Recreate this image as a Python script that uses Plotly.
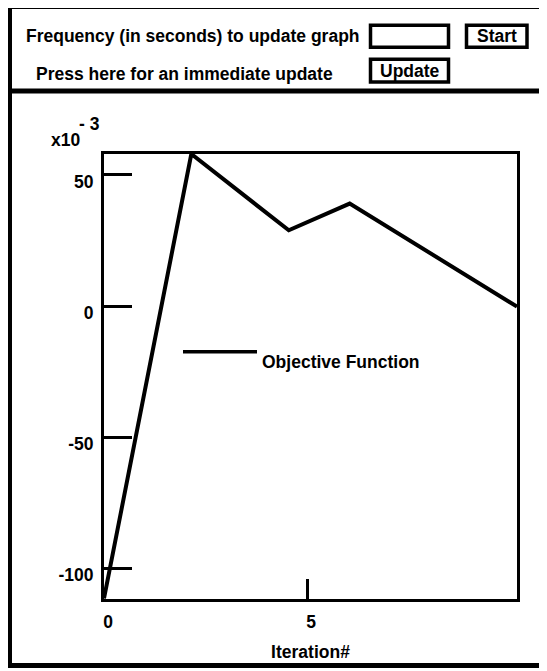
import plotly.graph_objects as go

# ---- data (y in units of 1e-3) ----
iterations = [0, 2.15, 4.55, 6.05, 10.17]
objective = [-111.5, 58.0, 28.9, 39.1, -0.2]
y_tick_vals = [-100, -50, 0, 50]
y_tick_text = ["-100", "-50", "0", "50"]
x_tick_vals = [0, 5]
x_tick_text = ["0", "5"]
series_name = "Objective Function"

# the page body adds an 8px margin; lay out in window pixels and shift by it
OFF = 8
W, H = 547 - OFF, 671 - OFF
L, T = 104 - OFF, 154 - OFF
PW, PH = 413, 448
R = W - L - PW
B = H - T - PH


def px(x):
    return (x - OFF - L) / PW


def py(y):
    return (T + PH - (y - OFF)) / PH


FONT = "Liberation Sans"
FS = 17.5

fig = go.Figure()
fig.add_trace(go.Scatter(
    x=iterations, y=objective, mode="lines", name=series_name,
    line=dict(color="black", width=4), showlegend=False,
    hoverinfo="x+y",
))

shapes = []
annotations = []

def box(x0, y0, x1, y1, w):
    shapes.append(dict(type="rect", xref="paper", yref="paper",
                       x0=px(x0), x1=px(x1), y0=py(y0), y1=py(y1),
                       line=dict(color="black", width=w), fillcolor="rgba(0,0,0,0)",
                       layer="above"))

def hline(x0, x1, y, w):
    shapes.append(dict(type="line", xref="paper", yref="paper",
                       x0=px(x0), x1=px(x1), y0=py(y), y1=py(y),
                       line=dict(color="black", width=w), layer="above"))

def text(t, x, y, xanchor="left"):
    annotations.append(dict(text=t, xref="paper", yref="paper", x=px(x), y=py(y),
                            xanchor=xanchor, yanchor="middle", showarrow=False,
                            font=dict(family=FONT, size=FS, color="black", weight="bold")))

# outer frame (right side runs past the window) and header separator
box(9.5, 5.5, 700, 669, 5)
hline(9.5, 700, 90.5, 5)

# header controls
text("Frequency (in seconds) to update graph", 23.5, 35)
box(370.5, 24.5, 448.5, 46.5, 3.5)
box(466.5, 24.5, 527, 46.5, 3.5)
text("Start", 496.5, 35.5, "center")
text("Press here for an immediate update", 34, 73)
box(370.5, 58.5, 448.5, 81.5, 3.5)
text("Update", 409.5, 70, "center")

# exponent label
text("x10", 49, 140)
text("- 3", 77, 124)

# legend entry
hline(183, 257, 353, 3.5)
text(series_name, 260, 363)

fig.update_layout(
    width=W, height=H,
    margin=dict(l=L, r=R, t=T, b=B),
    paper_bgcolor="white", plot_bgcolor="white",
    font=dict(family=FONT, size=FS, color="black", weight="bold"),
    showlegend=False,
    shapes=shapes,
    annotations=annotations,
)
fig.update_xaxes(
    range=[0, 10.17], tickvals=x_tick_vals, ticktext=x_tick_text,
    ticks="inside", ticklen=20, tickwidth=3,
    tickcolor="black", showline=True, linecolor="black", linewidth=3, mirror=True,
    showgrid=False, zeroline=False, ticklabelshift=4, ticklabelstandoff=5,
    tickfont=dict(family=FONT, size=FS, color="black", weight="bold"),
    title=dict(text="Iteration#", standoff=15,
               font=dict(family=FONT, size=FS, color="black", weight="bold")),
)
fig.update_yaxes(
    range=[-111.7, 58.0], tickvals=y_tick_vals, ticktext=y_tick_text,
    ticks="inside", ticklen=28, tickwidth=3,
    tickcolor="black", showline=True, linecolor="black", linewidth=3, mirror=True,
    showgrid=False, zeroline=False, ticklabelshift=7, ticklabelstandoff=4,
    tickfont=dict(family=FONT, size=FS, color="black", weight="bold"),
)

fig.write_html("out.html")
